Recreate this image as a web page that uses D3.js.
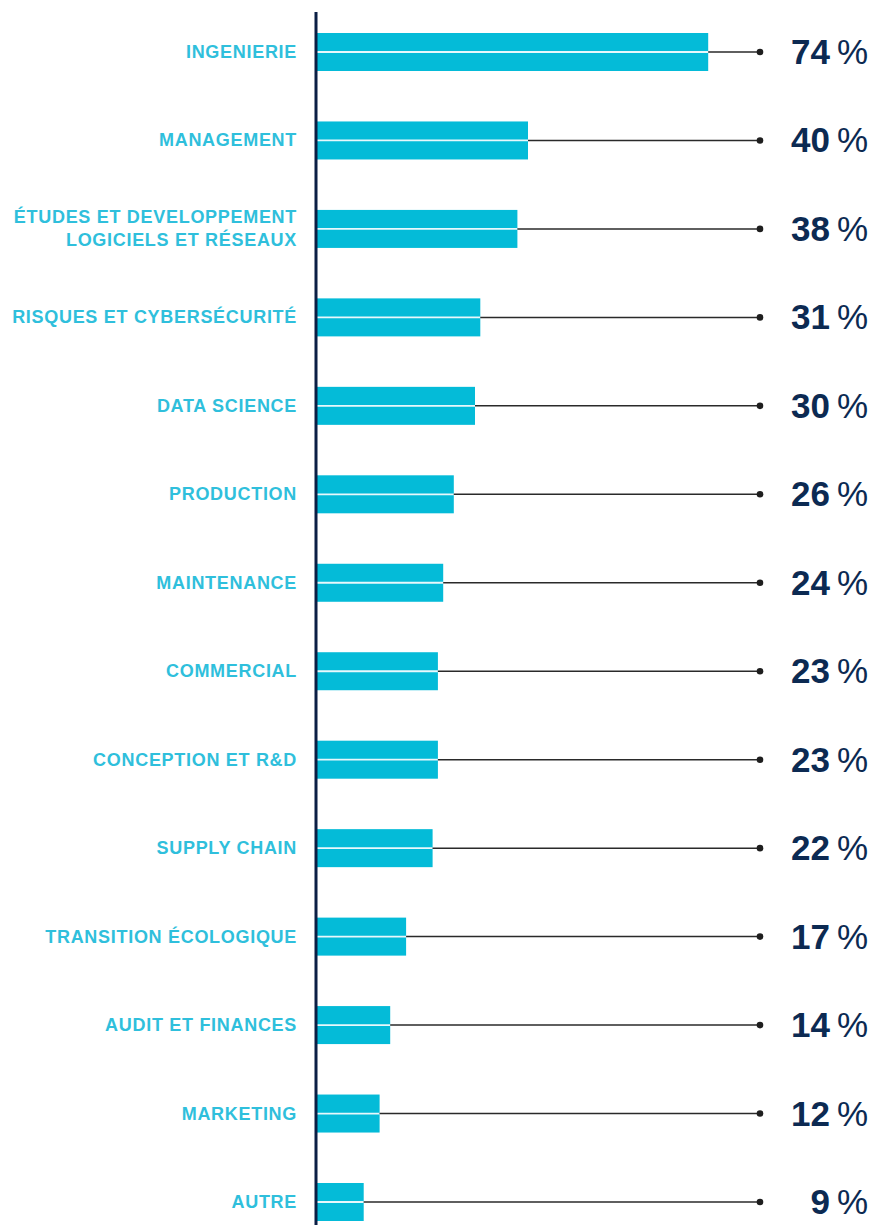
<!DOCTYPE html>
<html>
<head>
<meta charset="utf-8">
<script src="https://cdn.jsdelivr.net/npm/d3@7/dist/d3.min.js"></script>
<style>
  html, body { margin: 0; padding: 0; background: #ffffff; }
  svg { display: block; font-family: "Liberation Sans", Arial, Helvetica, sans-serif; }
</style>
</head>
<body>
<svg id="chart" width="872" height="1225"></svg>
<script>
// Domaines / métiers et part des répondants (%)
const categories = [
  "INGENIERIE",
  "MANAGEMENT",
  "ÉTUDES ET DEVELOPPEMENT\nLOGICIELS ET RÉSEAUX",
  "RISQUES ET CYBERSÉCURITÉ",
  "DATA SCIENCE",
  "PRODUCTION",
  "MAINTENANCE",
  "COMMERCIAL",
  "CONCEPTION ET R&D",
  "SUPPLY CHAIN",
  "TRANSITION ÉCOLOGIQUE",
  "AUDIT ET FINANCES",
  "MARKETING",
  "AUTRE"
];
const values = [74, 40, 38, 31, 30, 26, 24, 23, 23, 22, 17, 14, 12, 9];

const W = 872, H = 1225;
const axisX = 316;
const dotX = 760;
const barColor = "#04bbd8";
const labelColor = "#2fbfdc";
const navy = "#0c2a52";

const svg = d3.select("#chart");

const x = d3.scaleLinear().domain([0, 100]).range([axisX, axisX + 530]);

// Row centres
const y = d3.scalePoint()
  .domain(categories)
  .range([52, 1202]);

const rows = svg.append("g")
  .selectAll("g")
  .data(categories.map((c, i) => ({ cat: c, val: values[i] })))
  .join("g")
  .attr("transform", d => `translate(0,${y(d.cat)})`);

const barH = 38;

// Bars
rows.append("rect")
  .attr("x", axisX)
  .attr("y", -barH / 2)
  .attr("width", d => x(d.val) - axisX)
  .attr("height", barH)
  .attr("fill", barColor);

// Thin white separator across each bar
rows.append("line")
  .attr("x1", axisX)
  .attr("x2", d => x(d.val))
  .attr("y1", 0).attr("y2", 0)
  .attr("stroke", "#e8f8fc")
  .attr("stroke-width", 1.8);

// Leader line from bar end to the dot
rows.append("line")
  .attr("x1", d => x(d.val))
  .attr("x2", dotX)
  .attr("y1", 0).attr("y2", 0)
  .attr("stroke", "#2a2a2a")
  .attr("stroke-width", 1.5);

rows.append("circle")
  .attr("cx", dotX)
  .attr("cy", 0)
  .attr("r", 3.3)
  .attr("fill", "#1e1e1e");

// Category labels (multi-line where needed)
rows.append("text")
  .attr("x", 297)
  .attr("text-anchor", "end")
  .attr("fill", labelColor)
  .attr("font-size", 18)
  .attr("font-weight", 700)
  .attr("letter-spacing", 0.7)
  .each(function (d) {
    const lines = d.cat.split("\n");
    const lh = 23;
    const t = d3.select(this);
    lines.forEach((ln, k) => {
      t.append("tspan")
        .attr("x", 297)
        .attr("y", (k - (lines.length - 1) / 2) * lh + 6)
        .text(ln);
    });
  });

// Value labels
const vt = rows.append("text")
  .attr("x", 868)
  .attr("y", 12)
  .attr("text-anchor", "end")
  .attr("fill", navy)
  .attr("font-size", 35);
vt.append("tspan")
  .attr("font-weight", 700)
  .text(d => d.val);
vt.append("tspan")
  .attr("dx", 7)
  .attr("font-weight", 400)
  .text("%");

// Vertical axis line
svg.append("line")
  .attr("x1", axisX).attr("x2", axisX)
  .attr("y1", 12).attr("y2", H)
  .attr("stroke", "#0b1f45")
  .attr("stroke-width", 3);
</script>
</body>
</html>
